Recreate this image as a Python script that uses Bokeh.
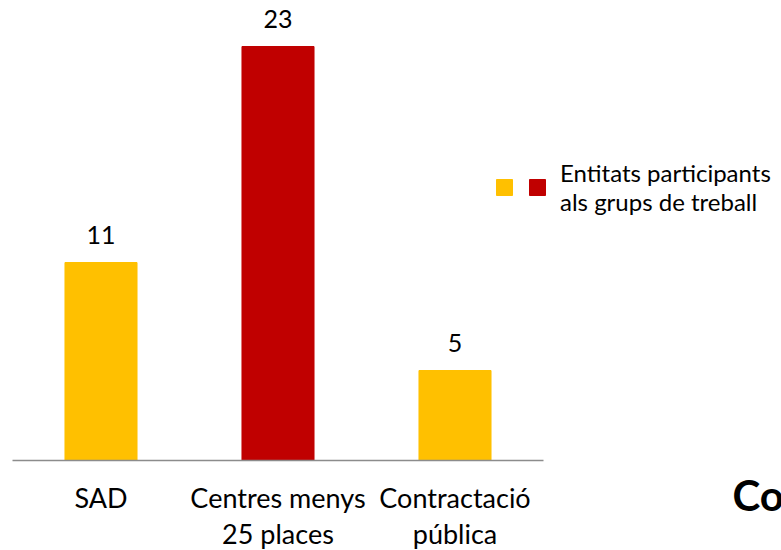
from bokeh.plotting import figure
from bokeh.models import (ColumnDataSource, LabelSet, Legend, LegendItem, Label,
                          Range1d, FixedTicker, LinearAxis)
from bokeh.core.properties import value
from bokeh.embed import file_html
from bokeh.resources import INLINE

categories = ["SAD", "Centres menys 25 places", "Contractació pública"]
tick_labels = ["SAD", "Centres menys\n25 places", "Contractació\npública"]
values = [11, 23, 5]
colors = ["#FFC000", "#C00000", "#FFC000"]
legend_label = "Entitats participants\nals grups de treball"
title_text = "Co"

FONT = "Lato"
W, H = 781, 550
pos = [i for i in range(len(categories))]

src = ColumnDataSource(dict(x=pos, cat=categories, tick=tick_labels, val=values,
                            col=colors, txt=[str(v) for v in values],
                            zero=[0] * len(values)))

p = figure(x_range=Range1d(-0.5 - 12 / 177, -0.5 + (W - 12) / 177),
           y_range=Range1d(-(H - 460) / 18, 460 / 18),
           width=W, height=H, output_backend="svg", toolbar_location=None,
           min_border=0)
p.outline_line_color = None
p.grid.grid_line_color = None
p.yaxis.visible = False
p.xaxis.visible = False
p.background_fill_color = "white"
p.border_fill_color = "white"

r = p.vbar(x="x", top="val", width=0.407, color="col", source=src)

labels = LabelSet(x="x", y="val", text="txt", source=src, text_align="center",
                  text_baseline="alphabetic", y_offset=19, text_font=value(FONT),
                  text_font_size="25px", text_color="#000000")
p.add_layout(labels)

ax = LinearAxis(fixed_location=0, bounds=(-0.5, len(categories) - 0.5),
                ticker=FixedTicker(ticks=pos))
ax.axis_line_color = "#8c8c8c"
ax.axis_line_width = 1.5
ax.major_tick_line_color = None
ax.minor_tick_line_color = None
ax.major_label_text_font_size = "0px"
ax.major_label_text_alpha = 0
p.add_layout(ax, "below")

p.text(x="x", y="zero", text="tick", source=src, text_align="center",
       text_baseline="top", y_offset=20, text_font=value(FONT),
       text_font_size="27px", text_line_height=1.1, text_color="#000000")

legend = Legend(items=[LegendItem(label="", renderers=[r], index=0),
                       LegendItem(label=legend_label, renderers=[r], index=1)],
                orientation="horizontal", location=(494, 334),
                glyph_width=20, glyph_height=20, label_standoff=13, spacing=0,
                label_width=0, padding=0, margin=0, border_line_color=None,
                background_fill_alpha=0,
                label_text_font=FONT, label_text_font_size="24px",
                label_text_line_height=1.2,
                label_text_color="#000000")
p.add_layout(legend, "center")

p.add_layout(Label(x=732, y=31, x_units="screen", y_units="screen", text=title_text,
                   text_font=FONT, text_font_style="bold", text_font_size="42px",
                   text_color="#000000"))

open("out.html", "w").write(file_html(p, INLINE))
